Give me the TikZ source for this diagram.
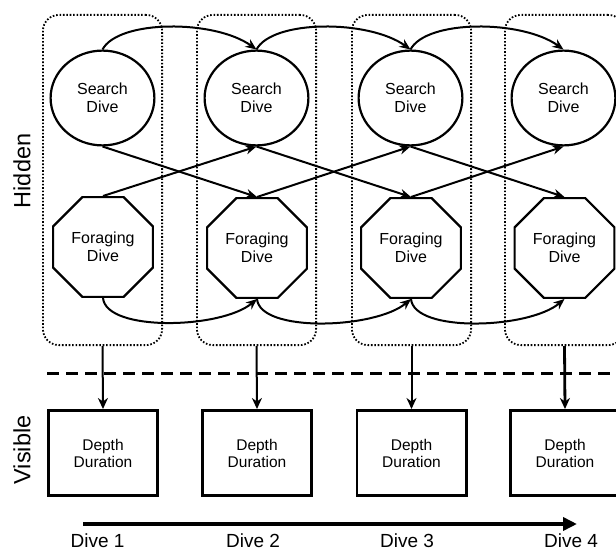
\documentclass[tikz,border=0pt]{standalone}
\usepackage{fontspec}
\setmainfont{Liberation Sans}
\usetikzlibrary{shapes.geometric,arrows.meta}
\begin{document}
\begin{tikzpicture}[x=1pt,y=-1pt,
  search/.style={ellipse,draw,line width=2.2pt,minimum width=103.8pt,minimum height=94.8pt,inner sep=0pt,align=center,font=\fontsize{16}{17.5}\selectfont},
  forage/.style={regular polygon,regular polygon sides=8,draw,line width=2.2pt,minimum size=108pt,inner sep=0pt,align=center,font=\fontsize{16}{17.5}\selectfont},
  obs/.style={rectangle,draw,line width=2.8pt,minimum width=109.2pt,minimum height=85.2pt,inner sep=0pt,align=center,font=\fontsize{15.5}{17}\selectfont},
  group/.style={rectangle,rounded corners=16pt,draw,line width=1.8pt,dash pattern=on 1.6pt off 1.8pt,minimum width=119.2pt,minimum height=330.2pt,inner sep=0pt},
  link/.style={line width=2pt,-{Stealth[length=11pt,width=9pt,inset=3.5pt]}},
  obslink/.style={line width=2pt,-{Stealth[length=11pt,width=10pt,inset=3.5pt]}},
  sidelabel/.style={rotate=90,font=\fontsize{23.5}{26}\selectfont},
  divelabel/.style={font=\fontsize{19}{22}\selectfont,inner sep=0pt,anchor=base},
]
\useasboundingbox (0,0) rectangle (616,551);

% groups
\node[group] (g1) at (102.5,180) {};
\node[group] (g2) at (256.5,180) {};
\node[group] (g3) at (411.5,180) {};
\node[group] (g4) at (564.5,180) {};

% hidden states
\node[search] (s1) at (102.5,98) {Search\\Dive};
\node[search] (s2) at (256.5,98) {Search\\Dive};
\node[search] (s3) at (410.5,98) {Search\\Dive};
\node[search] (s4) at (563.5,98) {Search\\Dive};

\node[forage] (f1) at (103,247) {Foraging\\Dive};
\node[forage] (f2) at (257,248) {Foraging\\Dive};
\node[forage] (f3) at (411,248) {Foraging\\Dive};
\node[forage] (f4) at (564.5,248) {Foraging\\Dive};

% observations
\node[obs] (d1) at (103,453) {Depth\\Duration};
\node[obs] (d2) at (257,453) {Depth\\Duration};
\node[obs] (d3) at (411.5,453) {Depth\\Duration};
\node[obs] (d4) at (565,453) {Depth\\Duration};

% labels
\node[sidelabel] (hid) at (22,171) {Hidden};
\node[sidelabel] (vis) at (22,450) {Visible};
\node[divelabel] (l1) at (97.5,547) {Dive 1};
\node[divelabel] (l2) at (253,547) {Dive 2};
\node[divelabel] (l3) at (407,547) {Dive 3};
\node[divelabel] (l4) at (571,547) {Dive 4};

% top curves
\foreach \a/\b in {s1/s2,s2/s3,s3/s4}
  \draw[link] (\a.north) .. controls +(16,-30) and +(-42,-30) .. (\b.north);
% bottom curves
\foreach \a/\b in {f1/f2,f2/f3,f3/f4}
  \draw[link] (\a.south) .. controls +(3,34) and +(-36,30) .. (\b.south);
% crossing arrows
\foreach \a/\b in {s1/f2,s2/f3,s3/f4}
  \draw[link] (\a.south) -- (\b.north);
\foreach \a/\b in {f1/s2,f2/s3,f3/s4}
  \draw[link] (\a.north) -- (\b.south);

% emissions
\draw[obslink] (g1.south) -- (d1.north);
\draw[obslink] (g2.south) -- (d2.north);
\draw[obslink] (g3.south) -- (d3.north);
\draw[obslink,line width=2.8pt] (g4.south) -- (d4.north);

% dashed separator
\coordinate (dl) at (47,373);
\coordinate (dr) at (616,373);
\draw[line width=3pt,dash pattern=on 12pt off 7pt] (dl) -- (dr);

% time arrow
\coordinate (ta) at (83,524);
\coordinate (tb) at (577,524);
\draw[line width=4pt,-{Triangle[length=14pt,width=13pt]}] (ta) -- (tb);
\end{tikzpicture}
\end{document}
